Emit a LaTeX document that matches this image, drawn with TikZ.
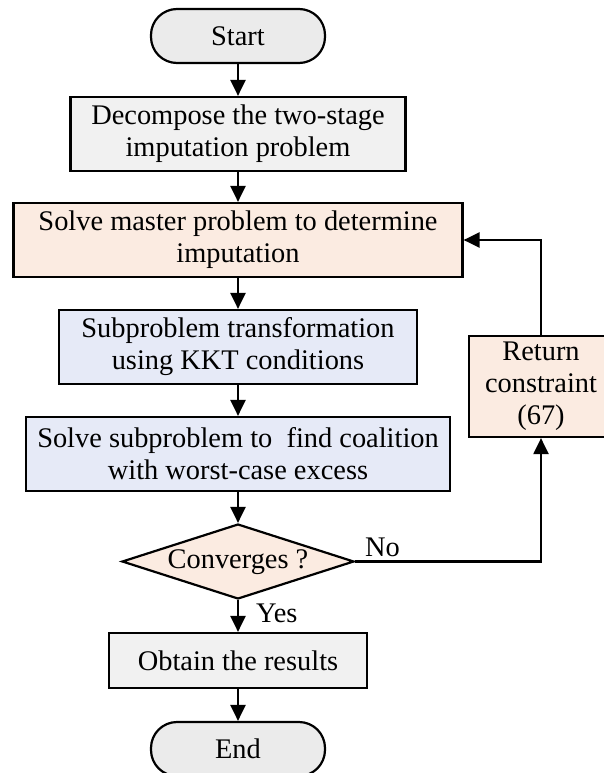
\documentclass[tikz,border=0pt]{standalone}
\usepackage{fontspec}
\setmainfont{Liberation Serif}
\usetikzlibrary{shapes.geometric,arrows.meta}
\definecolor{termgray}{HTML}{EBEBEB}
\definecolor{boxgray}{HTML}{F1F1F1}
\definecolor{peach}{HTML}{FBEBE1}
\definecolor{lblue}{HTML}{E6EAF7}
\tikzset{
  base/.style={draw=black, line width=2.2pt, align=center, inner sep=0pt,
    font=\fontsize{28.4}{32}\selectfont},
  term/.style={base, fill=termgray, rounded corners=26pt, minimum height=54pt, minimum width=174pt},
  procbox/.style={base, rectangle, minimum height=74pt},
  decis/.style={base, diamond, fill=peach, aspect=3.09, minimum width=232pt, minimum height=75pt},
  lbl/.style={font=\fontsize{28.4}{32}\selectfont, inner sep=0pt},
  conn/.style={line width=2.2pt, -{Triangle[length=16pt,width=15pt]}},
}
\begin{document}
\begin{tikzpicture}[x=1pt,y=-1pt]
\useasboundingbox (0,0) rectangle (604,773);
\node[term] (start) at (238,36) {Start};
\node[procbox, fill=boxgray, minimum width=335pt] (decomp) at (238,134) {Decompose the two-stage\\imputation problem};
\node[procbox, fill=peach, minimum width=449pt] (master) at (238,240) {Solve master problem to determine\\imputation};
\node[procbox, fill=lblue, minimum width=358pt] (trans) at (238,347) {Subproblem transformation\\using KKT conditions};
\node[procbox, fill=lblue, minimum width=424pt] (solve) at (238,454) {Solve subproblem to \ find coalition\\with worst-case excess};
\node[decis] (conv) at (238,561.5) {};
\node[lbl] (convtxt) at (238,562) {Converges ?};
\node[procbox, fill=boxgray, minimum width=258pt, minimum height=55pt] (obtain) at (238,660.5) {Obtain the results};
\node[term] (end) at (238,749) {End};
\node[procbox, fill=peach, minimum width=144pt, minimum height=101pt] (ret) at (541,386.5) {Return\\constraint\\(67)};
\node[lbl, anchor=base west] (no) at (365,556) {No};
\node[lbl, anchor=west] (yes) at (256,613) {Yes};
\draw[conn] (start) -- (decomp);
\draw[conn] (decomp) -- (master);
\draw[conn] (master) -- (trans);
\draw[conn] (trans) -- (solve);
\draw[conn] (solve) -- (conv);
\draw[conn] (conv) -- (obtain);
\draw[conn] (obtain) -- (end);
\draw[conn] (conv.east) -| (ret.south);
\draw[conn] (ret.north) |- (master.east);
\end{tikzpicture}
\end{document}
